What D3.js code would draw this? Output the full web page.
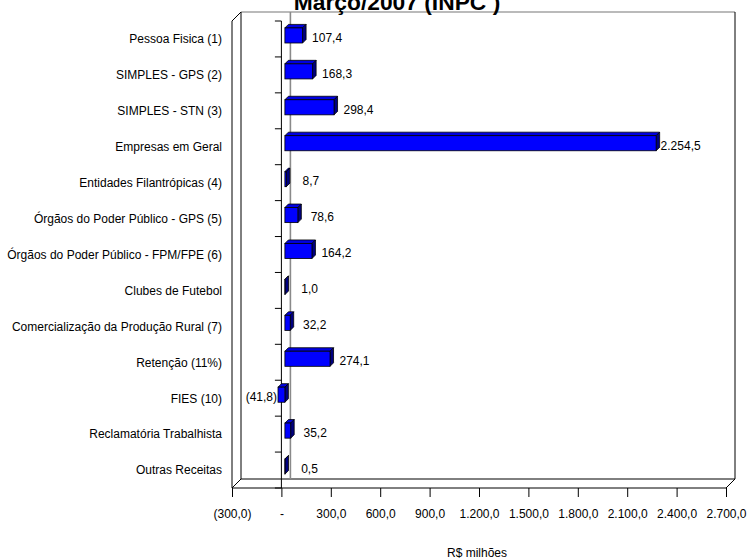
<!DOCTYPE html>
<html>
<head>
<meta charset="utf-8">
<script src="https://cdn.jsdelivr.net/npm/d3@7/dist/d3.min.js"></script>
<style>
  html, body { margin: 0; padding: 0; background: #fff; }
  svg { display: block; font-family: "Liberation Sans", Arial, sans-serif; }
</style>
</head>
<body>
<svg id="chart" width="748" height="559"></svg>
<script>
// Arrecadação por categoria — Março/2007 (INPC), R$ milhões
const categories = [
  "Pessoa Fisica (1)",
  "SIMPLES - GPS (2)",
  "SIMPLES - STN (3)",
  "Empresas em Geral",
  "Entidades Filantrópicas (4)",
  "Órgãos do Poder Público - GPS (5)",
  "Órgãos do Poder Público - FPM/FPE (6)",
  "Clubes de Futebol",
  "Comercialização da Produção Rural (7)",
  "Retenção (11%)",
  "FIES (10)",
  "Reclamatória Trabalhista",
  "Outras Receitas"
];
const values = [107.4, 168.3, 298.4, 2254.5, 8.7, 78.6, 164.2, 1.0, 32.2, 274.1, -41.8, 35.2, 0.5];
const tickValues = [-300, 0, 300, 600, 900, 1200, 1500, 1800, 2100, 2400, 2700];
const tickLabels = ["(300,0)", "-", "300,0", "600,0", "900,0", "1.200,0", "1.500,0", "1.800,0", "2.100,0", "2.400,0", "2.700,0"];
const titleText = "Março/2007 (INPC )";
const axisTitle = "R$ milhões";

const svg = d3.select("#chart");

// front plane of the 3-D plot box
const pLeft = 232, pRight = 726, pTop = 21, pBottom = 488;
const wall = 9;      // depth of the back wall (offset right / up)
const barD0 = 3.5;   // depth of the bar front faces
const barD = 3.5;    // thickness of each bar

const x = d3.scaleLinear().domain([-300, 2700]).range([pLeft, pRight]);
const y = d3.scaleBand().domain(categories).range([pTop, pBottom]).padding(0);

const ptBR = d3.formatLocale({decimal: ",", thousands: ".", grouping: [3], currency: ["R$", ""]});
const fmt = ptBR.format(",.1f");
const fmtVal = v => v < 0 ? "(" + fmt(-v) + ")" : fmt(v);

const line = (x1, y1, x2, y2, color, w) =>
  svg.append("line").attr("x1", x1).attr("y1", y1).attr("x2", x2).attr("y2", y2)
    .attr("stroke", color || "#000").attr("stroke-width", w || 1);

// box: back wall, left wall and floor edges
line(pLeft + wall, pTop - wall, pRight + wall, pTop - wall, "#777", 1.2);
line(pRight + wall, pTop - wall, pRight + wall, pBottom - wall);
line(pLeft + wall, pTop - wall, pLeft + wall, pBottom - wall);
line(pLeft, pTop, pLeft, pBottom);
line(pLeft, pTop, pLeft + wall, pTop - wall);
line(pLeft + wall, pBottom - wall, pRight + wall, pBottom - wall);
line(pLeft, pBottom, pRight, pBottom);
line(pLeft, pBottom, pLeft + wall, pBottom - wall);
line(pRight, pBottom, pRight + wall, pBottom - wall);

// zero line on the back wall
line(x(0) + wall, pTop - wall, x(0) + wall, pBottom - wall, "#8a8a8a", 1.6);

// value axis along the front floor edge
const xAxis = d3.axisBottom(x)
  .tickValues(tickValues)
  .tickFormat((d, i) => tickLabels[i])
  .tickSize(9)
  .tickPadding(12);
const gx = svg.append("g").attr("transform", `translate(0,${pBottom})`).call(xAxis);
gx.select(".domain").remove();
gx.selectAll(".tick line").attr("stroke", "#000");
gx.selectAll(".tick text").attr("font-size", 12).attr("fill", "#000")
  .attr("font-family", "'Liberation Sans', Arial, sans-serif");

// category axis crossing at zero
const yAxis = d3.axisLeft(y).tickSize(0).tickPadding(x(0) - 222);
const gy = svg.append("g").attr("transform", `translate(${x(0)},0)`).call(yAxis);
gy.select(".domain").remove();
gy.selectAll(".tick text").attr("font-size", 12).attr("fill", "#000")
  .attr("font-family", "'Liberation Sans', Arial, sans-serif")
  .attr("dy", "0.36em");
line(x(0), pTop, x(0), pBottom);
const bounds = categories.map(c => y(c)).concat([pBottom]);
svg.append("g").selectAll("line").data(bounds).join("line")
  .attr("x1", x(0) - 6.5).attr("x2", x(0))
  .attr("y1", d => d).attr("y2", d => d)
  .attr("stroke", "#000");

// 3-D bars
const barH = y.bandwidth() * 0.42;
const bars = svg.append("g").selectAll("g").data(categories.map((c, i) => ({c, v: values[i]}))).join("g");
bars.each(function(d) {
  const g = d3.select(this);
  const cy = y(d.c) + y.bandwidth() / 2 - barD0;
  const y0 = cy - barH / 2, y1 = cy + barH / 2;
  const xa = Math.min(x(0), x(d.v)) + barD0;
  const xb = Math.max(x(0), x(d.v)) + barD0;
  const poly = pts => pts.map(p => p.join(",")).join(" ");
  g.append("polygon")
    .attr("points", poly([[xa, y0], [xa + barD, y0 - barD], [xb + barD, y0 - barD], [xb, y0]]))
    .attr("fill", "#0000e0").attr("stroke", "#000").attr("stroke-width", 0.8);
  g.append("polygon")
    .attr("points", poly([[xb, y0], [xb + barD, y0 - barD], [xb + barD, y1 - barD], [xb, y1]]))
    .attr("fill", "#000080").attr("stroke", "#000").attr("stroke-width", 0.8);
  g.append("rect")
    .attr("x", xa).attr("y", y0).attr("width", xb - xa).attr("height", barH)
    .attr("fill", "#0000ff").attr("stroke", "#000").attr("stroke-width", 0.8);
  // value label
  const lx = d.v < 0 ? x(d.v) + barD0 - 1 : x(d.v) + 28;
  g.append("text")
    .attr("x", lx)
    .attr("y", y(d.c) + y.bandwidth() / 2 - 1.5)
    .attr("dy", "0.36em")
    .attr("text-anchor", d.v < 0 ? "end" : "middle")
    .attr("font-size", 12)
    .text(fmtVal(d.v));
});

// titles
svg.append("text").attr("x", 397).attr("y", 9.5).attr("text-anchor", "middle")
  .attr("font-size", 22.8).attr("font-weight", "bold").text(titleText);
svg.append("text").attr("x", 477).attr("y", 557).attr("text-anchor", "middle")
  .attr("font-size", 12).text(axisTitle);
</script>
</body>
</html>
